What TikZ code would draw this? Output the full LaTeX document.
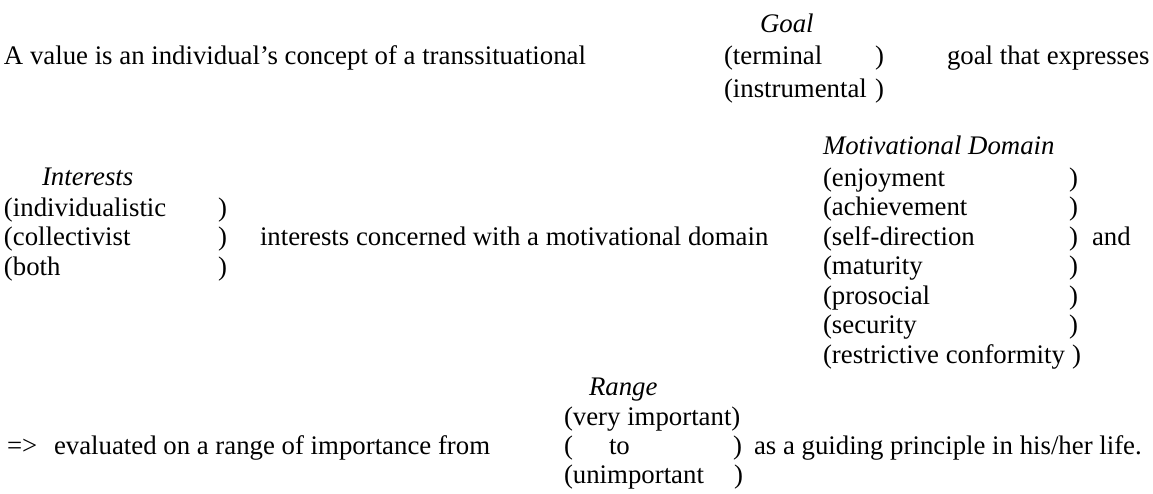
\documentclass[tikz,border=0pt]{standalone}
\usepackage{fontspec}
\setmainfont{Liberation Serif}
\begin{document}
\begin{tikzpicture}[x=1pt,y=-1pt,
  txt/.style={anchor=base west, inner sep=0pt, outer sep=0pt, font=\fontsize{26.8}{30}\selectfont},
  hdr/.style={txt, font=\fontsize{26.8}{30}\selectfont\itshape}]
\useasboundingbox[fill=white] (0,0) rectangle (1153,493);
% Row 1
\node[txt] (intro) at (4,64) {A value is an individual’s concept of a transsituational};
\node[hdr] (goalh) at (760,32) {Goal};
\node[txt] (term) at (724,64) {(terminal};
\node[txt] (termc) at (875,64) {)};
\node[txt] (instr) at (724,97) {(instrumental};
\node[txt] (instrc) at (875,97) {)};
\node[txt] (expr) at (947,64) {goal that expresses};
% Row 2: interests
\node[hdr] (inth) at (42,185) {Interests};
\node[txt] (ind) at (4,216) {(individualistic};
\node[txt] (indc) at (218,216) {)};
\node[txt] (col) at (4,245) {(collectivist};
\node[txt] (colc) at (218,245) {)};
\node[txt] (both) at (4,275) {(both};
\node[txt] (bothc) at (218,275) {)};
\node[txt] (conc) at (260,245) {interests concerned with a motivational domain};
% Motivational domain
\node[hdr] (mdh) at (823,154) {Motivational Domain};
\node[txt] (enj) at (823,186) {(enjoyment};
\node[txt] (enjc) at (1069,186) {)};
\node[txt] (ach) at (823,215) {(achievement};
\node[txt] (achc) at (1069,215) {)};
\node[txt] (sd) at (823,245) {(self-direction};
\node[txt] (sdc) at (1069,245) {)};
\node[txt] (and) at (1092,245) {and};
\node[txt] (mat) at (823,274) {(maturity};
\node[txt] (matc) at (1069,274) {)};
\node[txt] (pro) at (823,304) {(prosocial};
\node[txt] (proc) at (1069,304) {)};
\node[txt] (sec) at (823,333) {(security};
\node[txt] (secc) at (1069,333) {)};
\node[txt] (rc) at (823,363) {(restrictive conformity};
\node[txt] (rcc) at (1072,363) {)};
% Range
\node[hdr] (rh) at (589,395) {Range};
\node[txt] (vi) at (564,425) {(very important};
\node[txt] (vic) at (vi.base east) {)};
\node[txt] (arrow) at (7,454) {=>};
\node[txt] (eval) at (54,454) {evaluated on a range of importance from};
\node[txt] (too) at (564,454) {(};
\node[txt] (to) at (609,454) {to};
\node[txt] (toc) at (733,454) {)};
\node[txt] (guid) at (754,454) {as a guiding principle in his/her life.};
\node[txt] (un) at (564,483) {(unimportant};
\node[txt] (unc) at (734,483) {)};
\end{tikzpicture}
\end{document}
